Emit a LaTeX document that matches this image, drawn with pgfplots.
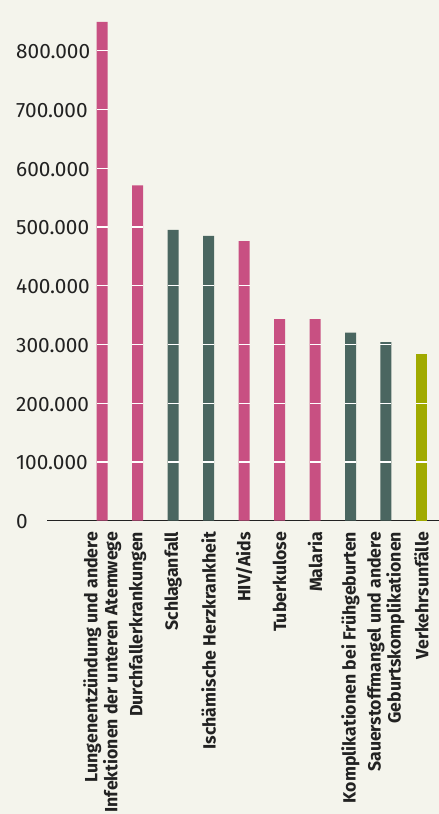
\documentclass[border=0pt]{standalone}
\usepackage{pgfplots}
\pgfplotsset{compat=1.18}
\usepackage{pgfplotstable}
\usepackage{fontspec}
\setmainfont{Fira Sans}
\definecolor{bg}{HTML}{F4F4EC}
\definecolor{cpink}{HTML}{C85082}
\definecolor{cgreen}{HTML}{4A6660}
\definecolor{colive}{HTML}{A0AA00}
\definecolor{txt}{HTML}{222222}
\pgfplotstableread{
x v
0 849
1 571
2 495
3 485
4 476
5 343
6 343
7 320
8 304
9 284
}\deaths
\begin{document}
\begin{tikzpicture}[x=1pt,y=1pt]
\fill[bg] (0,0) rectangle (439,814);
\begin{axis}[
  at={(47pt,293.3pt)}, anchor=south west,
  scale only axis, width=392pt, height=511.1pt,
  xmin=-1.556, xmax=9.495, ymin=0, ymax=870,
  axis x line*=bottom, axis y line*=left,
  x axis line style={draw=txt, line width=1.2pt, -},
  y axis line style={draw=none},
  ytick={0,100,200,300,400,500,600,700,800},
  yticklabels={0,100.000,200.000,300.000,400.000,500.000,600.000,700.000,800.000},
  xtick={0,...,9},
  xticklabels={{Lungenentzündung und andere\\Infektionen der unteren Atemwege},
    Durchfallerkrankungen, Schlaganfall, Ischämische Herzkrankheit, HIV/Aids,
    Tuberkulose, Malaria, Komplikationen bei Frühgeburten,
    {Sauerstoffmangel und andere\\Geburtskomplikationen}, Verkehrsunfälle},
  major tick length=0pt,
  xticklabel shift=11pt,
  x tick label style={rotate=90, anchor=east, align=right, inner sep=0pt,
    font=\fontsize{17.7}{20}\selectfont\bfseries, text=txt},
  y tick label style={anchor=west, inner sep=0pt, xshift=-31pt, yshift=-1pt,
    font=\fontsize{20.8}{21}\selectfont, text=txt},
  ybar, bar width=11pt, bar shift=0pt,
  clip=true,
]
\addplot[fill=cpink, draw=none] table[x=x, y=v] {
x v
0 849
1 571
4 476
5 343
6 343
};
\addplot[fill=cgreen, draw=none] table[x=x, y=v] {
x v
2 495
3 485
7 320
8 304
};
\addplot[fill=colive, draw=none] table[x=x, y=v] {
x v
9 284
};
\pgfplotsinvokeforeach{100,200,300,400,500,600,700,800}{
  \addplot[sharp plot, only marks, mark=-, mark size=5.5pt,
    mark options={draw=white, line width=1.3pt}]
    table[x=x, y expr={\thisrow{v}>#1 ? #1 : -500}] {\deaths};
}
\end{axis}
\pgfresetboundingbox
\path[use as bounding box] (0,0) rectangle (439,814);
\end{tikzpicture}
\end{document}
